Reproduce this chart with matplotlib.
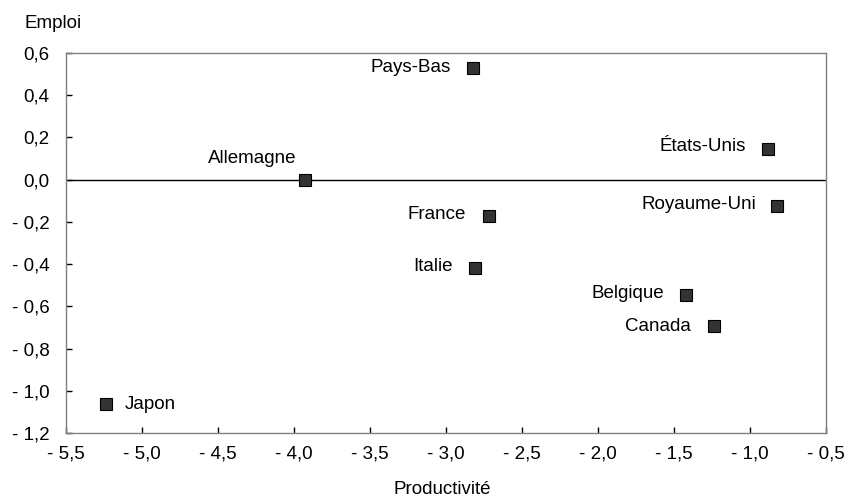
import matplotlib as mpl
import matplotlib.pyplot as plt
from matplotlib.ticker import FuncFormatter

mpl.rcParams.update({"font.family": ["Liberation Sans", "DejaVu Sans"], "font.size": 13.5})

countries = ["Pays-Bas", "Allemagne", "États-Unis", "Royaume-Uni", "France",
             "Italie", "Belgique", "Canada", "Japon"]
productivite = [-2.82, -3.93, -0.88, -0.82, -2.72, -2.81, -1.42, -1.24, -5.24]
emploi = [0.53, 0.00, 0.145, -0.125, -0.17, -0.42, -0.545, -0.695, -1.065]
# label offsets in points (dx, dy)
offsets = {
    "Pays-Bas": (-16, 0), "Allemagne": (-6, 9), "États-Unis": (-16, 2),
    "Royaume-Uni": (-15, 1), "France": (-16, 1), "Italie": (-16, 1),
    "Belgique": (-16, 1), "Canada": (-16, 0), "Japon": (14, 0),
}


def fmt(v, _):
    s = f"{abs(v):.1f}".replace(".", ",")
    return f"- {s}" if v < -1e-9 else s


fig = plt.figure(figsize=(8.44, 4.99), dpi=100)
ax = fig.add_axes([0.0782, 0.1323, 0.9005, 0.7615])
ax.axhline(0, color="black", lw=1.0, zorder=1)
ax.plot(productivite, emploi, ls="none", marker="s", ms=8.5, mfc="#333333",
        mec="black", mew=0.8, zorder=3)
for name, x, y in zip(countries, productivite, emploi):
    dx, dy = offsets[name]
    ha = "left" if dx > 0 else "right"
    va = "bottom" if dy > 5 else "center"
    ax.annotate(name, (x, y), xytext=(dx, dy), textcoords="offset points",
                ha=ha, va=va)

ax.set_xlim(-5.5, -0.5)
ax.set_ylim(-1.2, 0.6)
ax.set_xticks([-5.5 + 0.5 * i for i in range(11)])
ax.set_yticks([-1.2 + 0.2 * i for i in range(10)])
ax.xaxis.set_major_formatter(FuncFormatter(fmt))
ax.yaxis.set_major_formatter(FuncFormatter(fmt))
for sp in ax.spines.values():
    sp.set_color("#808080")
    sp.set_linewidth(1.0)
ax.tick_params(direction="in", length=4, width=1.0, color="black")
ax.tick_params(axis="y", pad=12)
ax.tick_params(axis="x", pad=9)

fig.text(24 / 844, 1 - 24 / 499, "Emploi", ha="left", va="center")
fig.text(442 / 844, 1 - 489 / 499, "Productivité", ha="center", va="center")

fig.savefig("out.png", dpi=100)
